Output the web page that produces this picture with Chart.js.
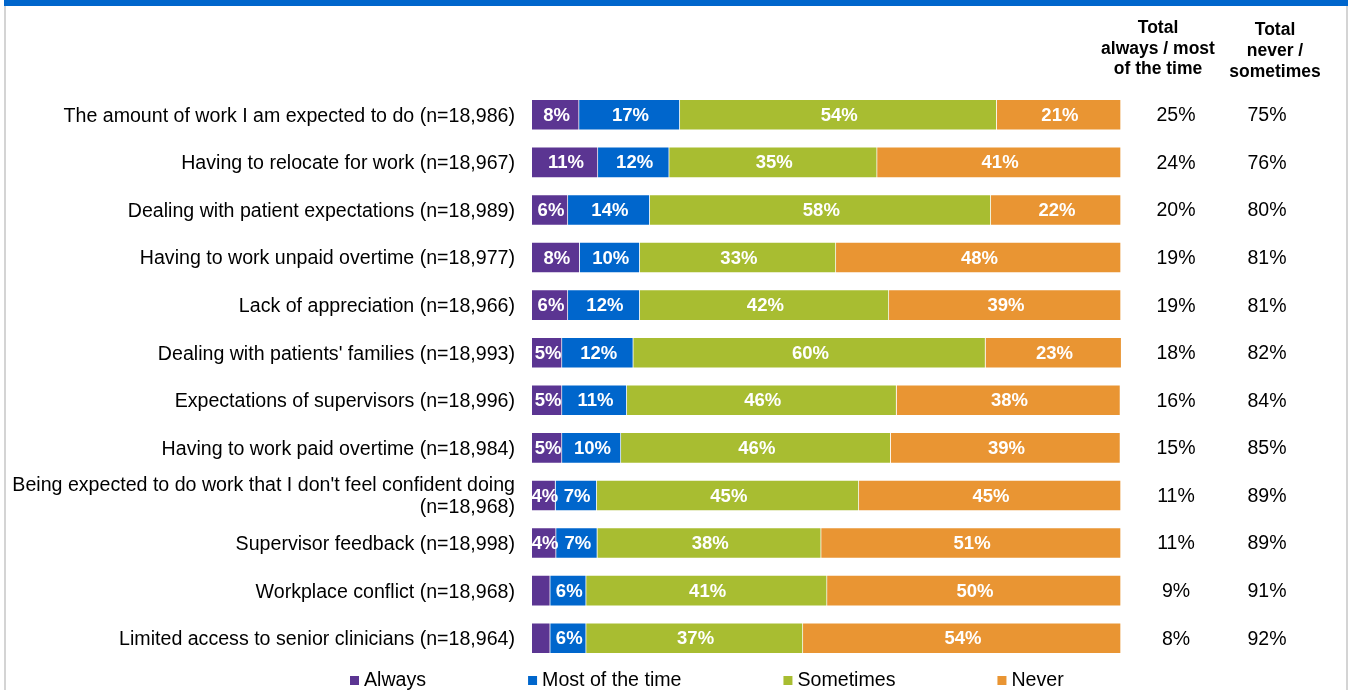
<!DOCTYPE html>
<html>
<head>
<meta charset="utf-8">
<script src="https://cdn.jsdelivr.net/npm/chart.js@4.4.1/dist/chart.umd.min.js"></script>
<style>
  html, body { margin: 0; padding: 0; background: #fff; }
  #wrap { width: 1349px; height: 690px; position: relative; }
</style>
</head>
<body>
<div id="wrap"><canvas id="graficoBarras" width="1349" height="690"></canvas></div>
<script>
const FONTE = '"Liberation Sans", Arial, sans-serif';

// categorias (eixo y)
const categorias = [
  'The amount of work I am expected to do (n=18,986)',
  'Having to relocate for work (n=18,967)',
  'Dealing with patient expectations (n=18,989)',
  'Having to work unpaid overtime (n=18,977)',
  'Lack of appreciation (n=18,966)',
  "Dealing with patients' families (n=18,993)",
  'Expectations of supervisors (n=18,996)',
  'Having to work paid overtime (n=18,984)',
  ["Being expected to do work that I don't feel confident doing", '(n=18,968)'],
  'Supervisor feedback (n=18,998)',
  'Workplace conflict (n=18,968)',
  'Limited access to senior clinicians (n=18,964)'
];

// series (%)
const always     = [8.0, 11.2, 6.1, 8.1, 6.1, 5.1, 5.1, 5.1, 4.0, 4.1, 3.1, 3.1];
const mostOfTime = [17.1, 12.1, 13.9, 10.2, 12.2, 12.1, 11.0, 10.0, 7.0, 7.0, 6.1, 6.1];
const sometimes  = [53.8, 35.3, 57.9, 33.3, 42.3, 59.8, 45.8, 45.8, 44.5, 38.0, 40.9, 36.8];
const never      = [21.1, 41.4, 22.1, 48.4, 39.4, 23.1, 38.0, 39.0, 44.5, 50.9, 49.9, 54.0];

// colunas de totais
const totalAlwaysMost = [25, 24, 20, 19, 19, 18, 16, 15, 11, 11, 9, 8];
const totalNeverSometimes = [75, 76, 80, 81, 81, 82, 84, 85, 89, 89, 91, 92];
const cabecalhoTotal1 = ['Total', 'always / most', 'of the time'];
const cabecalhoTotal2 = ['Total', 'never /', 'sometimes'];

const nomesSeries = ['Always', 'Most of the time', 'Sometimes', 'Never'];
const coresSeries = ['#5B3592', '#0066CC', '#A8BD31', '#E99533'];

// moldura azul no topo + linhas laterais
const moldura = {
  id: 'moldura',
  beforeDraw(chart) {
    const ctx = chart.ctx;
    ctx.save();
    ctx.fillStyle = '#fff';
    ctx.fillRect(0, 0, chart.width, chart.height);
    ctx.fillStyle = '#d4d4d4';
    ctx.fillRect(4, 0, 2, chart.height);
    ctx.fillRect(1346, 0, 2, chart.height);
    ctx.fillStyle = '#0066CC';
    ctx.fillRect(4, 0, 1344, 6);
    ctx.restore();
  }
};

// valores dentro das barras
const rotulosBarras = {
  id: 'rotulosBarras',
  afterDatasetsDraw(chart) {
    const ctx = chart.ctx;
    ctx.save();
    ctx.font = 'bold 18.5px ' + FONTE;
    ctx.fillStyle = '#fff';
    ctx.textAlign = 'center';
    ctx.textBaseline = 'middle';
    chart.data.datasets.forEach((ds, i) => {
      chart.getDatasetMeta(i).data.forEach((barra, j) => {
        const v = ds.data[j];
        if (v < 3.5) return;
        const p = barra.getCenterPoint();
        ctx.fillText(Math.round(v) + '%', p.x + 1, p.y + 1);
      });
    });
    ctx.restore();
  }
};

// colunas da direita + cabecalhos
const colunasTotais = {
  id: 'colunasTotais',
  afterDraw(chart) {
    const ctx = chart.ctx;
    const area = chart.chartArea;
    const y = chart.scales.y;
    const x1 = area.right + 55;
    const x2 = area.right + 146;
    ctx.save();
    ctx.textAlign = 'center';
    ctx.textBaseline = 'middle';
    ctx.fillStyle = '#000';
    ctx.font = 'bold 17.5px ' + FONTE;
    cabecalhoTotal1.forEach((t, k) => ctx.fillText(t, x1 - 18, 28 + k * 20.8));
    cabecalhoTotal2.forEach((t, k) => ctx.fillText(t, x2 + 8, 30.5 + k * 20.8));
    ctx.font = '19.5px ' + FONTE;
    categorias.forEach((c, j) => {
      const py = y.getPixelForValue(j) + 1;
      ctx.fillText(totalAlwaysMost[j] + '%', x1, py);
      ctx.fillText(totalNeverSometimes[j] + '%', x2, py);
    });
    ctx.restore();
  }
};

// legenda embaixo
const legendaBaixo = {
  id: 'legendaBaixo',
  afterDraw(chart) {
    const ctx = chart.ctx;
    ctx.save();
    ctx.font = '19.6px ' + FONTE;
    ctx.textBaseline = 'middle';
    ctx.textAlign = 'left';
    let x = 350;
    const yc = 681;
    chart.data.datasets.forEach((ds) => {
      ctx.fillStyle = ds.backgroundColor;
      ctx.fillRect(x, yc - 5, 9, 9);
      ctx.fillStyle = '#000';
      ctx.fillText(ds.label, x + 14, yc);
      x += 14 + ctx.measureText(ds.label).width + 102;
    });
    ctx.restore();
  }
};

function montarGrafico() {
  const ctx = document.getElementById('graficoBarras').getContext('2d');
  const valores = [always, mostOfTime, sometimes, never];

  const datasets = nomesSeries.map((nome, i) => ({
    label: nome,
    data: valores[i],
    backgroundColor: coresSeries[i],
    borderColor: 'rgba(255,255,255,0.55)',
    borderWidth: 1,
    barThickness: 31
  }));

  new Chart(ctx, {
    type: 'bar',
    data: { labels: categorias, datasets: datasets },
    options: {
      indexAxis: 'y',
      responsive: false,
      animation: false,
      layout: { padding: { left: 0, right: 228, top: 91, bottom: 28 } },
      plugins: {
        legend: { display: false },
        tooltip: { enabled: false }
      },
      scales: {
        x: { stacked: true, min: 0, max: 100, display: false },
        y: {
          stacked: true,
          grid: { display: false },
          border: { display: false },
          ticks: {
            color: '#000',
            padding: 9,
            autoSkip: false,
            labelOffset: 1.5,
            font: { size: 19.6, family: FONTE, lineHeight: 1.12 }
          },
          afterFit(scale) { scale.width = 532; }
        }
      }
    },
    plugins: [moldura, rotulosBarras, colunasTotais, legendaBaixo]
  });
}

window.onload = () => {
  montarGrafico();
};
</script>
</body>
</html>
